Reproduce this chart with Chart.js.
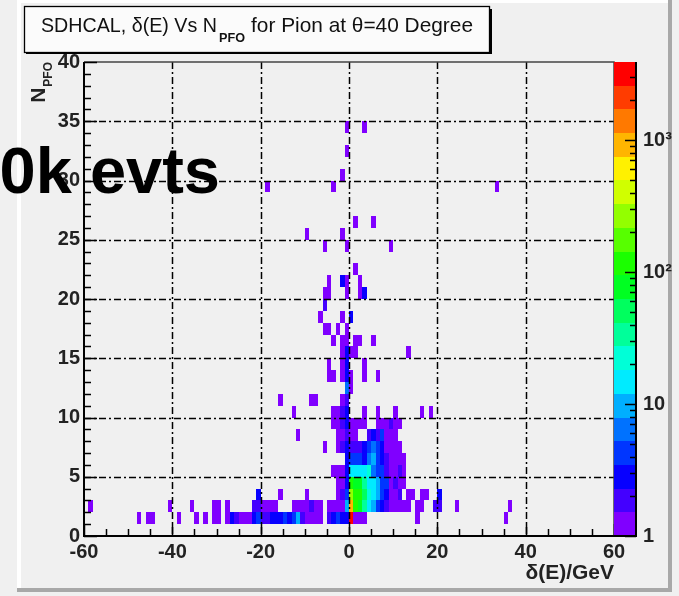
<!DOCTYPE html>
<html><head><meta charset="utf-8">
<script src="https://cdn.jsdelivr.net/npm/chart.js@4.4.0/dist/chart.umd.min.js"></script>
<style>html,body{margin:0;padding:0;background:#f0f0f0;overflow:hidden}canvas{display:block}</style>
</head><body>
<canvas id="c" width="679" height="596"></canvas>
<script>
// ---------------- data ----------------
const xTickValues = [-60, -40, -20, 0, 20, 40, 60];
const yTickValues = [0, 5, 10, 15, 20, 25, 30, 35, 40];
const zTickValues = [1, 10, 100, 1000];
const zTickLabels = ['1', '10', '10\u00B2', '10\u00B3'];
const zMax = 3900;
// bin lower edge in delta(E) [GeV], bin lower edge in N_PFO, bin content
const binX = [
  -48,-46,-45,-39,-35,-33,-31,-30,-28,-27,-26,-25,-24,-23,-22,-21,-20,-19,-18,-17,-16,-15,-14,-13,-12,-11,-10,-9,-8,-7,-5,-4,-3,-2,-1,0,1,2,3,15,35,
  -59,-41,-36,-31,-30,-28,-22,-21,-20,-19,-18,-17,-13,-12,-11,-10,-9,-8,-7,-5,-4,-3,-2,-1,0,1,2,3,4,5,6,7,8,9,10,11,12,13,15,16,19,20,24,36,
  -21,-16,-10,-3,-2,-1,0,1,2,3,4,5,6,7,8,9,10,11,13,14,16,17,20,
  -3,-2,-1,0,1,2,3,4,5,6,7,8,9,10,11,12,
  -4,-3,-2,-1,0,1,2,3,4,5,6,7,8,9,10,11,12,
  -1,0,1,2,3,4,5,6,7,8,9,10,11,12,
  -6,-3,-2,-1,0,1,2,3,4,5,6,7,8,9,10,11,
  -12,-3,-2,-1,0,1,4,5,6,7,8,9,10,
  -4,-3,-2,-1,0,1,2,3,6,7,8,9,10,11,
  -13,-4,-3,-2,-1,3,6,10,16,18,
  -16,-9,-8,-2,-1,
  -1,0,
  -5,-4,-2,-1,0,3,6,
  -5,-2,-1,3,
  -2,-1,0,1,13,
  -4,-2,-1,1,2,5,
  -6,-5,-3,-1,
  -7,-2,0,
  -6,
  -6,-5,-1,2,3,
  -5,-2,-1,2,
  1,
  -6,-1,9,
  -10,-2,
  1,5,
  -19,-4,33,
  -2,
  -1,
  -1,3
];
const binY = [
  1,1,1,1,1,1,1,1,1,1,1,1,1,1,1,1,1,1,1,1,1,1,1,1,1,1,1,1,1,1,1,1,1,1,1,1,1,1,1,1,1,
  2,2,2,2,2,2,2,2,2,2,2,2,2,2,2,2,2,2,2,2,2,2,2,2,2,2,2,2,2,2,2,2,2,2,2,2,2,2,2,2,2,2,2,2,
  3,3,3,3,3,3,3,3,3,3,3,3,3,3,3,3,3,3,3,3,3,3,3,
  4,4,4,4,4,4,4,4,4,4,4,4,4,4,4,4,
  5,5,5,5,5,5,5,5,5,5,5,5,5,5,5,5,5,
  6,6,6,6,6,6,6,6,6,6,6,6,6,6,
  7,7,7,7,7,7,7,7,7,7,7,7,7,7,7,7,
  8,8,8,8,8,8,8,8,8,8,8,8,8,
  9,9,9,9,9,9,9,9,9,9,9,9,9,9,
  10,10,10,10,10,10,10,10,10,10,
  11,11,11,11,11,
  12,12,
  13,13,13,13,13,13,13,
  14,14,14,14,
  15,15,15,15,15,
  16,16,16,16,16,16,
  17,17,17,17,
  18,18,18,
  19,
  20,20,20,20,20,
  21,21,21,21,
  22,
  24,24,24,
  25,25,
  26,26,
  29,29,29,
  30,
  32,
  34,34
];
const binCount = [
  1,1,1,1,1,1,1,1,1,3,2,1,1,1,3,4,2,2,3,3,3,4,3,4,10,2,1,1,1,1,2,3,4,3,3,3800,1,1,1,1,1,
  1,1,1,1,1,1,2,2,1,1,1,1,1,1,1,1,2,1,1,1,1,1,1,10,900,110,80,30,16,8,4,3,2,1,1,1,1,1,1,1,2,2,1,1,
  3,1,1,1,2,4,250,130,100,45,20,15,10,5,3,1,1,2,1,1,1,1,3,
  1,1,3,110,90,70,35,18,14,10,5,4,1,2,1,1,
  1,1,1,3,13,16,15,13,22,7,5,4,2,1,1,2,1,
  3,4,5,4,3,6,8,5,3,2,1,1,1,1,
  1,1,2,3,2,2,2,3,5,6,4,3,1,1,1,1,
  1,1,1,2,1,1,2,3,2,4,1,1,1,
  1,1,2,3,1,1,1,1,1,1,1,2,1,1,
  1,1,1,2,3,1,1,1,1,1,
  1,1,1,1,2,
  6,1,
  1,1,1,3,1,1,1,
  1,1,3,1,
  1,3,1,1,1,
  1,1,1,1,1,1,
  1,1,1,1,
  1,1,3,
  2,
  1,1,1,1,3,
  1,3,1,1,
  1,
  1,1,1,
  1,1,
  1,1,
  1,1,1,
  1,
  1,
  1,1
];

// ---------------- style ----------------
const W = 679, H = 596;
const NCONT = 20;
const palette = [];
for (let k = 0; k < NCONT; k++) palette.push('hsl(' + (270 - k * 270 / (NCONT - 1)).toFixed(1) + ',100%,50%)');
const FONT = '"Liberation Sans", Arial, Helvetica, sans-serif';
function levelOf(n) {
  const k = Math.floor(Math.log10(n) / Math.log10(zMax) * NCONT);
  return Math.max(0, Math.min(NCONT - 1, k));
}

const cellPlugin = {
  id: 'cells',
  beforeDraw(chart) {
    const ctx = chart.ctx;
    ctx.save();
    ctx.fillStyle = '#f0f0f0';
    ctx.fillRect(0, 0, W, H);
    ctx.fillStyle = '#ffffff';
    ctx.fillRect(17, 0, 655, 3);
    ctx.fillRect(17, 0, 4, 592);
    ctx.fillStyle = '#a8a8a8';
    ctx.fillRect(668, 0, 4, 592);
    ctx.fillRect(17, 588, 655, 4);
    ctx.restore();
  },
  beforeDatasetsDraw(chart) {
    const ctx = chart.ctx, xs = chart.scales.x, ys = chart.scales.y;
    const ds = chart.data.datasets[0].data;
    ctx.save();
    for (const p of ds) {
      const x0 = Math.round(xs.getPixelForValue(p.x)), x1 = Math.round(xs.getPixelForValue(p.x + 1));
      const y0 = Math.round(ys.getPixelForValue(p.y)), y1 = Math.round(ys.getPixelForValue(p.y + 1));
      ctx.fillStyle = palette[levelOf(p.n)];
      ctx.fillRect(x0, y1, x1 - x0, y0 - y1);
    }
    ctx.restore();
  },
  afterDatasetsDraw(chart) {
    const ctx = chart.ctx, xs = chart.scales.x, ys = chart.scales.y, zs = chart.scales.z;
    const a = chart.chartArea;
    ctx.save();
    // grid
    ctx.strokeStyle = '#000';
    ctx.lineWidth = 1.5;
    ctx.setLineDash([7, 3, 2, 3]);
    for (const v of xTickValues) {
      if (v <= xs.min || v >= xs.max) continue;
      const px = Math.round(xs.getPixelForValue(v)) + 0.5;
      ctx.beginPath(); ctx.moveTo(px, a.top); ctx.lineTo(px, a.bottom); ctx.stroke();
    }
    for (const v of yTickValues) {
      if (v <= ys.min || v >= ys.max) continue;
      const py = Math.round(ys.getPixelForValue(v)) + 0.5;
      ctx.beginPath(); ctx.moveTo(a.left, py); ctx.lineTo(a.right, py); ctx.stroke();
    }
    ctx.setLineDash([]);
    // frame
    ctx.strokeStyle = '#444';
    ctx.lineWidth = 1.5;
    ctx.beginPath(); ctx.moveTo(a.left, a.top); ctx.lineTo(a.right, a.top); ctx.lineTo(a.right, a.bottom); ctx.stroke();
    ctx.strokeStyle = '#000';
    ctx.lineWidth = 2;
    ctx.beginPath(); ctx.moveTo(a.left, a.top); ctx.lineTo(a.left, a.bottom); ctx.lineTo(a.right, a.bottom); ctx.stroke();
    // axis ticks
    ctx.lineWidth = 1.5;
    for (let v = xs.min; v <= xs.max; v += 5) {
      const px = Math.round(xs.getPixelForValue(v)) + 0.5;
      const len = (v % 20 === 0) ? 12 : 7;
      ctx.beginPath(); ctx.moveTo(px, a.bottom); ctx.lineTo(px, a.bottom - len); ctx.stroke();
    }
    for (let v = ys.min; v <= ys.max; v += 1) {
      const py = Math.round(ys.getPixelForValue(v)) + 0.5;
      const len = (v % 5 === 0) ? 13 : 7;
      ctx.beginPath(); ctx.moveTo(a.left, py); ctx.lineTo(a.left + len, py); ctx.stroke();
    }
    // colour bar
    const zl = zs.left, zw = 22;
    const lmax = Math.log10(zMax);
    for (let k = 0; k < NCONT; k++) {
      const yb = zs.getPixelForValue(Math.pow(10, k * lmax / NCONT));
      const yt = zs.getPixelForValue(Math.pow(10, (k + 1) * lmax / NCONT));
      ctx.fillStyle = palette[k];
      ctx.fillRect(zl, Math.round(yt), zw, Math.round(yb) - Math.round(yt));
    }
    ctx.strokeStyle = '#000';
    ctx.lineWidth = 2;
    ctx.beginPath(); ctx.moveTo(zl + zw, a.top); ctx.lineTo(zl + zw, a.bottom); ctx.lineTo(zl, a.bottom); ctx.stroke();
    ctx.lineWidth = 1.5;
    for (let d = 1; d <= 1000; d *= 10) {
      for (let m = 1; m <= 9; m++) {
        const v = d * m;
        if (v > zMax) break;
        const py = Math.round(zs.getPixelForValue(v)) + 0.5;
        const len = (m === 1) ? 11 : 6;
        ctx.beginPath(); ctx.moveTo(zl + zw, py); ctx.lineTo(zl + zw - len, py); ctx.stroke();
      }
    }
    ctx.restore();
  },
  afterDraw(chart) {
    const ctx = chart.ctx;
    const a = chart.chartArea;
    ctx.save();
    // title box
    ctx.fillStyle = '#000';
    ctx.fillRect(26, 9, 466, 45);
    ctx.fillStyle = '#fbfbfb';
    ctx.fillRect(24, 6, 465, 46);
    ctx.strokeStyle = '#000';
    ctx.lineWidth = 1.3;
    ctx.strokeRect(24.5, 6.5, 465, 46);
    ctx.fillStyle = '#111';
    ctx.textBaseline = 'alphabetic';
    ctx.textAlign = 'left';
    function fitText(txt, x, y, w, font) {
      ctx.font = font;
      const mw = ctx.measureText(txt).width;
      ctx.save();
      ctx.translate(x, y);
      ctx.scale(w / mw, 1);
      ctx.fillText(txt, 0, 0);
      ctx.restore();
    }
    fitText('SDHCAL, \u03B4(E) Vs N', 41, 32, 176, '21px ' + FONT);
    fitText('PFO', 219, 42, 26, 'bold 12px ' + FONT);
    fitText('for Pion at \u03B8=40 Degree', 251, 32, 222, '21px ' + FONT);
    // x axis title
    ctx.font = 'bold 21px ' + FONT;
    ctx.fillStyle = '#222';
    ctx.textAlign = 'right';
    ctx.fillText('\u03B4(E)/GeV', a.right, 579);
    // y axis title (rotated)
    ctx.save();
    ctx.translate(45, a.top);
    ctx.rotate(-Math.PI / 2);
    ctx.font = 'bold 12px ' + FONT;
    const wsub = ctx.measureText('PFO').width;
    ctx.textAlign = 'right';
    ctx.fillText('PFO', 0, 7);
    ctx.font = 'bold 21px ' + FONT;
    ctx.fillText('N', -wsub - 1, 0);
    ctx.restore();
    // overlay
    ctx.font = 'bold 65px ' + FONT;
    ctx.textAlign = 'right';
    ctx.fillStyle = '#000';
    ctx.fillText('10k evts', 220, 193);
    ctx.restore();
  }
};

const tickFont = { family: FONT, size: 20, weight: 'bold' };
new Chart(document.getElementById('c'), {
  type: 'scatter',
  data: {
    datasets: [{
      data: binX.map((x, i) => ({ x: x, y: binY[i], n: binCount[i] })),
      pointRadius: 0, pointHoverRadius: 0, showLine: false
    }]
  },
  options: {
    responsive: false, animation: false, devicePixelRatio: 1,
    layout: { padding: { top: 62, left: 0, right: 0, bottom: 0 } },
    plugins: { legend: { display: false }, tooltip: { enabled: false } },
    events: [],
    scales: {
      x: {
        type: 'linear', position: 'bottom', min: -60, max: 60,
        afterBuildTicks: s => { s.ticks = xTickValues.map(v => ({ value: v })); },
        afterFit: s => { s.height = 60; },
        grid: { display: false, drawTicks: false }, border: { display: false },
        ticks: { font: tickFont, color: '#222', padding: 4, maxRotation: 0, autoSkip: false }
      },
      y: {
        type: 'linear', position: 'left', min: 0, max: 40,
        afterBuildTicks: s => { s.ticks = yTickValues.map(v => ({ value: v })); },
        afterFit: s => { s.width = 84; },
        grid: { display: false, drawTicks: false }, border: { display: false },
        ticks: { font: tickFont, color: '#222', padding: 4, autoSkip: false }
      },
      z: {
        type: 'logarithmic', position: 'right', min: 1, max: zMax,
        afterBuildTicks: s => { s.ticks = zTickValues.map(v => ({ value: v })); },
        afterFit: s => { s.width = 65; },
        grid: { display: false, drawTicks: false }, border: { display: false },
        ticks: {
          font: tickFont, color: '#222', padding: 29, autoSkip: false,
          callback: (v) => { const i = zTickValues.indexOf(v); return i >= 0 ? zTickLabels[i] : ''; }
        }
      }
    }
  },
  plugins: [cellPlugin]
});
</script>
</body></html>
